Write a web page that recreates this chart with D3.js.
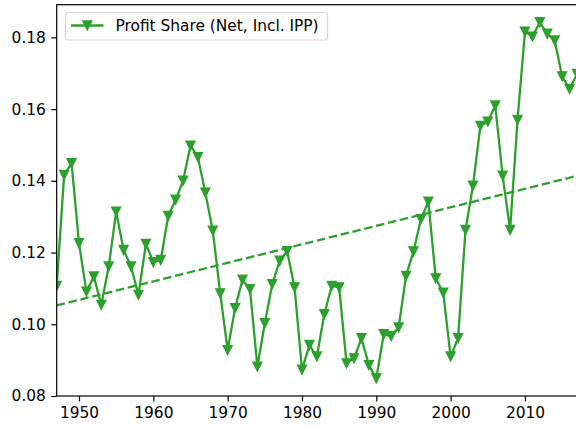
<!DOCTYPE html>
<html>
  <head>
    <meta charset="utf-8" />
    <script src="https://d3js.org/d3.v7.min.js"></script>
    <style>
      body { margin: 0; background: white; }
      svg { display: block; font-family: 'DejaVu Sans', sans-serif; }
    </style>
  </head>
  <body>
    <div id="wrapper"></div>
    <script>

const w = 576
const h = 426
const green = "#2ca02c"
const fontSize = 15.4
const lw = 2.3

// profit share by year
const years = d3.range(1947, 2018)
const profitShare = [
  0.1107, 0.1416, 0.1449, 0.1226, 0.1091, 0.1133, 0.1054, 0.1161, 0.1314, 0.1207,
  0.1161, 0.1082, 0.1224, 0.1173, 0.1179, 0.1302, 0.1347, 0.1400, 0.1498, 0.1466,
  0.1367, 0.1261, 0.1086, 0.0928, 0.1045, 0.1124, 0.1098, 0.0882, 0.1003, 0.1112,
  0.1177, 0.1204, 0.1103, 0.0873, 0.0942, 0.0910, 0.1028, 0.1107, 0.1103, 0.0891,
  0.0905, 0.0961, 0.0886, 0.0849, 0.0972, 0.0967, 0.0991, 0.1135, 0.1203, 0.1293,
  0.1342, 0.1128, 0.1088, 0.0910, 0.0961, 0.1263, 0.1386, 0.1553, 0.1565, 0.1610,
  0.1414, 0.1263, 0.1570, 0.1816, 0.1802, 0.1842, 0.1810, 0.1791, 0.1691, 0.1656,
  0.1698
]
const xTicks = [1950, 1960, 1970, 1980, 1990, 2000, 2010]
const yTicks = [0.08, 0.10, 0.12, 0.14, 0.16, 0.18]
const legendLabel = "Profit Share (Net, Incl. IPP)"

const data = years.map((yr, i) => ({year: yr, v: profitShare[i]}))

// plain least squares trend
const mx = d3.mean(data, d => d.year)
const my = d3.mean(data, d => d.v)
const slope = d3.sum(data, d => (d.year - mx) * (d.v - my)) / d3.sum(data, d => (d.year - mx) ** 2)
const trend = yr => my + slope * (yr - mx)

const margin = {left: 56.7, top: 4.7, right: 577, bottom: 396}

const x = d3.scaleLinear().domain([1947, 2017]).range([margin.left, margin.right])
const y = d3.scaleLinear().domain([0.08, 0.1891]).range([margin.bottom, margin.top])

const svg = d3.select("#wrapper").append("svg")
  .attr("width", w)
  .attr("height", h)

svg.append("defs").append("clipPath").attr("id", "plot")
  .append("rect")
  .attr("x", margin.left).attr("y", margin.top)
  .attr("width", margin.right - margin.left).attr("height", margin.bottom - margin.top)

const plot = svg.append("g").attr("clip-path", "url(#plot)")

// trend line
plot.append("line")
  .attr("x1", x(1947)).attr("y1", y(trend(1947)))
  .attr("x2", x(2017)).attr("y2", y(trend(2017)))
  .attr("stroke", green)
  .attr("stroke-width", lw)
  .attr("stroke-dasharray", `${3.7 * lw},${1.6 * lw}`)

const line = d3.line().x(d => x(d.year)).y(d => y(d.v))

plot.append("path")
  .datum(data)
  .attr("d", line)
  .attr("fill", "none")
  .attr("stroke", green)
  .attr("stroke-width", lw)
  .attr("stroke-linejoin", "round")

// triangle_down markers (markersize ~9.2px)
const tri = "M-4.6,-4.6L4.6,-4.6L0,4.6Z"
plot.selectAll(".mk")
  .data(data)
  .enter()
  .append("path")
  .attr("class", "mk")
  .attr("d", tri)
  .attr("transform", d => `translate(${x(d.year)},${y(d.v)})`)
  .attr("fill", green)
  .attr("stroke", green)
  .attr("stroke-width", 1.2)
  .attr("stroke-linejoin", "miter")

// axes
const xAxis = svg.append("g")
  .attr("transform", `translate(0,${margin.bottom})`)
  .call(d3.axisBottom(x).tickValues(xTicks).tickFormat(d3.format("d")).tickSize(5.4).tickPadding(5.4))
const yAxis = svg.append("g")
  .attr("transform", `translate(${margin.left},0)`)
  .call(d3.axisLeft(y).tickValues(yTicks).tickFormat(d3.format(".2f")).tickSize(5.4).tickPadding(5.4))

for (const ax of [xAxis, yAxis]) {
  ax.select(".domain").remove()
  ax.selectAll("line").attr("stroke", "black").attr("stroke-width", 1.2)
  ax.selectAll("text").attr("font-size", fontSize).attr("fill", "black").attr("font-family", "'DejaVu Sans', sans-serif")
}

// spines
svg.append("rect")
  .attr("x", margin.left).attr("y", margin.top)
  .attr("width", margin.right - margin.left).attr("height", margin.bottom - margin.top)
  .attr("fill", "none")
  .attr("stroke", "black")
  .attr("stroke-width", 1.2)

// legend
const lg = svg.append("g")
lg.append("rect")
  .attr("x", 65.5).attr("y", 12.5)
  .attr("width", 262).attr("height", 27.5)
  .attr("rx", 3)
  .attr("fill", "white").attr("fill-opacity", 0.8)
  .attr("stroke", "#d6d6d6")
  .attr("stroke-width", 1.2)
lg.append("line")
  .attr("x1", 71).attr("x2", 103.5).attr("y1", 25.5).attr("y2", 25.5)
  .attr("stroke", green).attr("stroke-width", lw)
lg.append("path")
  .attr("d", tri)
  .attr("transform", "translate(87.3,25.5)")
  .attr("fill", green).attr("stroke", green).attr("stroke-width", 1.2)
lg.append("text")
  .attr("x", 115.5).attr("y", 31.2)
  .attr("font-size", fontSize)
  .text(legendLabel)

    </script>
  </body>
</html>
